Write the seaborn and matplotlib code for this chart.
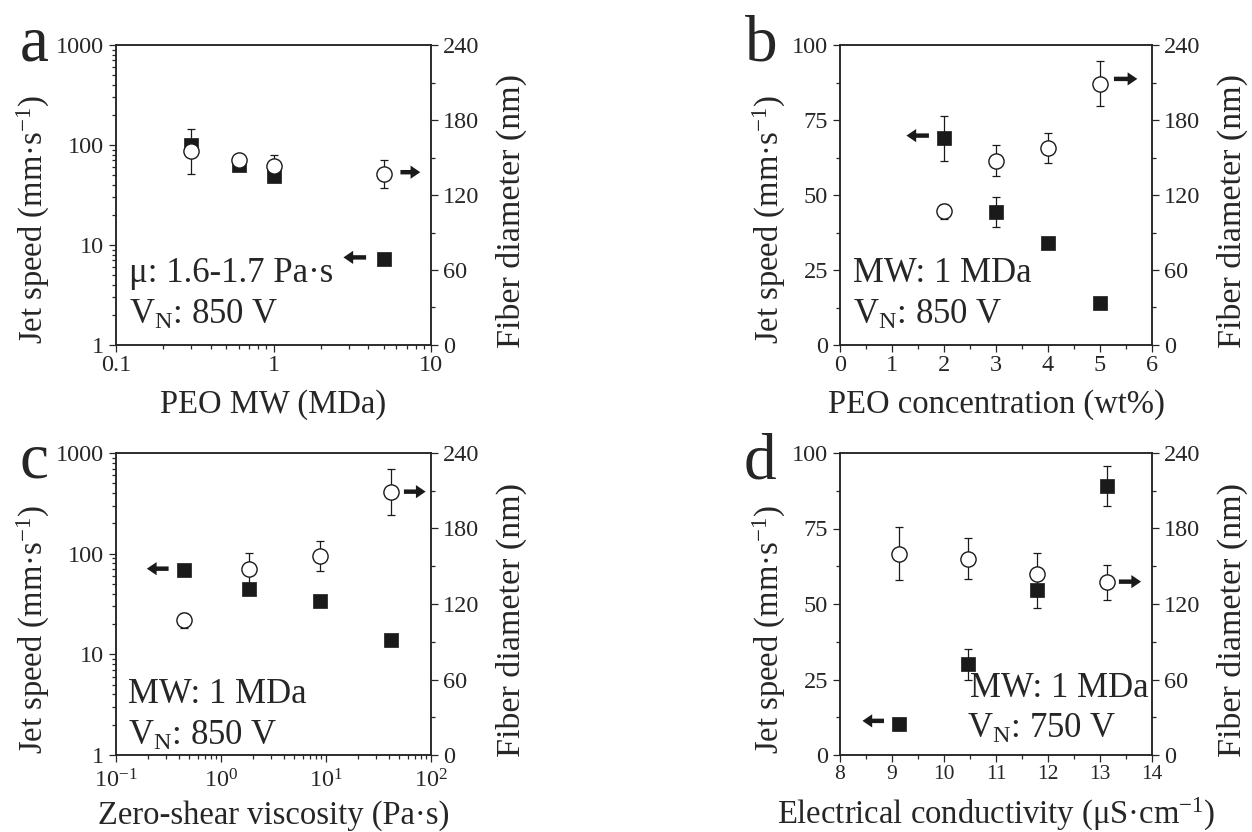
import numpy as np
import matplotlib
matplotlib.use("Agg")
import matplotlib.pyplot as plt
import seaborn as sns
from matplotlib.ticker import (FixedLocator, FixedFormatter, MultipleLocator,
                               LogLocator, NullFormatter, LogFormatterSciNotation)

# ---- data -------------------------------------------------------------
# (a) jet speed / fiber diameter vs PEO molecular weight
a_mw = [0.3, 0.6, 1.0, 5.0]
a_speed = [100, 63, 49, 7.3]
a_speed_err = [0, 0, 0, 0]
a_diam = [155, 148, 143, 137]
a_diam_err = [18, 3, 9, 11]

# (b) vs PEO concentration
b_conc = [2, 3, 4, 5]
b_speed = [69, 44.5, 34, 14]
b_speed_err = [7.5, 5, 0, 0]
b_diam = [107, 147.5, 158, 209]
b_diam_err = [6, 12.5, 12, 18]

# (c) vs zero-shear viscosity
c_visc = [0.44, 1.84, 8.7, 41.7]
c_speed = [69, 44.7, 34, 13.8]
c_speed_err = [0, 0, 0, 0]
c_diam = [107, 148, 158.4, 209]
c_diam_err = [6, 12.5, 12, 18]

# (d) vs electrical conductivity
d_cond = [9.14, 10.46, 11.79, 13.14]
d_speed = [10.2, 30, 54.7, 89.1]
d_speed_err = [2, 5, 6, 6.7]
d_diam = [160, 156, 143.5, 137.3]
d_diam_err = [21, 16.5, 17, 14]

# ---- style ------------------------------------------------------------
sns.set_theme(style="ticks")
plt.rcParams["font.family"] = ["Liberation Serif", "DejaVu Serif"]
plt.rcParams["mathtext.fontset"] = "custom"
plt.rcParams["mathtext.rm"] = "Liberation Serif"
plt.rcParams["mathtext.it"] = "Liberation Serif:italic"
plt.rcParams["mathtext.bf"] = "Liberation Serif:bold"
plt.rcParams["axes.linewidth"] = 1.1

TICK_FS = 17.5
LABEL_FS = 23.5
NOTE_FS = 25
LETTER_FS = 47

W, H = 1252, 832
fig = plt.figure(figsize=(W / 100, H / 100), dpi=100)
fig.patch.set_facecolor("white")


def rect(left, top, right, bottom):
    return [left / W, 1 - bottom / H, (right - left) / W, (bottom - top) / H]


def arrow(ax, x0, x1, y):
    ax.annotate("", xy=(x1, y), xytext=(x0, y), xycoords="axes fraction",
                textcoords="axes fraction",
                arrowprops=dict(arrowstyle="simple,head_length=0.7,head_width=0.95,tail_width=0.32",
                                fc="k", ec="k", lw=0, mutation_scale=10,
                                shrinkA=0, shrinkB=0))


def panel(box, x, speed, speed_err, diam, diam_err):
    ax = fig.add_axes(box)
    ax2 = ax.twinx()
    ax.errorbar(x, speed, yerr=speed_err, fmt="none", ecolor="k",
                elinewidth=0.9, capsize=3.2, capthick=0.9, zorder=2)
    sns.scatterplot(x=x, y=speed, ax=ax, marker="s", s=95, color="k",
                    edgecolor="k", linewidth=0.5, zorder=3)
    ax2.errorbar(x, diam, yerr=diam_err, fmt="none", ecolor="k",
                 elinewidth=0.9, capsize=3.2, capthick=0.9, zorder=2)
    sns.scatterplot(x=x, y=diam, ax=ax2, marker="o", s=120, color="white",
                    edgecolor="k", linewidth=1.0, zorder=3)
    ax.set_xlabel("")
    ax.set_ylabel("Jet speed (mm·s$^{-1}$)", fontsize=LABEL_FS, labelpad=3)
    ax.yaxis.label.set_y(0.417)
    ax2.set_ylabel("Fiber diameter (nm)", fontsize=LABEL_FS + 1, labelpad=12)
    ax2.yaxis.label.set_y(0.447)
    ax2.set_ylim(0, 240)
    ax2.yaxis.set_major_locator(MultipleLocator(60))
    ax2.yaxis.set_minor_locator(MultipleLocator(30))
    for a in (ax, ax2):
        a.tick_params(which="both", direction="out", labelsize=TICK_FS,
                      width=0.9, pad=3.5, top=False)
        a.tick_params(which="major", length=5)
        a.tick_params(which="minor", length=3)
    ax.tick_params(axis="x", pad=2)
    ax.tick_params(which="both", right=False)
    ax2.tick_params(which="both", left=False, right=True)
    for s in ax2.spines.values():
        s.set_linewidth(1.1)
    return ax, ax2


def log_y(ax):
    ax.set_yscale("log")
    ax.set_ylim(1, 1000)
    ax.yaxis.set_major_locator(FixedLocator([1, 10, 100, 1000]))
    ax.yaxis.set_major_formatter(FixedFormatter(["1", "10", "100", "1000"]))
    ax.yaxis.set_minor_locator(LogLocator(base=10, subs=np.arange(2, 10)))
    ax.yaxis.set_minor_formatter(NullFormatter())


def lin_y(ax):
    ax.set_ylim(0, 100)
    ax.yaxis.set_major_locator(MultipleLocator(25))
    ax.yaxis.set_minor_locator(MultipleLocator(12.5))


# ---- panel a ----------------------------------------------------------
ax, ax2 = panel(rect(116, 45, 431, 345), a_mw, a_speed, a_speed_err, a_diam, a_diam_err)
ax.set_xscale("log")
ax.set_xlim(0.1, 10)
ax.xaxis.set_major_locator(FixedLocator([0.1, 1, 10]))
ax.xaxis.set_major_formatter(FixedFormatter(["0.1", "1", "10"]))
ax.xaxis.set_minor_locator(LogLocator(base=10, subs=np.arange(2, 10)))
ax.xaxis.set_minor_formatter(NullFormatter())
log_y(ax)
ax.set_xlabel("PEO MW (MDa)", fontsize=LABEL_FS, labelpad=10)
ax.text(0.042, 0.209, "μ: 1.6-1.7 Pa·s", transform=ax.transAxes, fontsize=NOTE_FS, va="baseline")
ax.text(0.042, 0.07, "V$_\\mathrm{N}$: 850 V", transform=ax.transAxes, fontsize=NOTE_FS, va="baseline")
arrow(ax, 0.903, 0.966, 0.576)
arrow(ax, 0.794, 0.722, 0.292)
ax.text(-0.305, 0.95, "a", transform=ax.transAxes, fontsize=LETTER_FS, va="baseline")

# ---- panel b ----------------------------------------------------------
ax, ax2 = panel(rect(840, 45, 1152, 345), b_conc, b_speed, b_speed_err, b_diam, b_diam_err)
ax.set_xlim(0, 6)
ax.xaxis.set_major_locator(MultipleLocator(1))
ax.xaxis.set_minor_locator(MultipleLocator(0.5))
lin_y(ax)
ax.set_xlabel("PEO concentration (wt%)", fontsize=LABEL_FS, labelpad=10)
ax.text(0.041, 0.209, "MW: 1 MDa", transform=ax.transAxes, fontsize=NOTE_FS, va="baseline")
ax.text(0.041, 0.072, "V$_\\mathrm{N}$: 850 V", transform=ax.transAxes, fontsize=NOTE_FS, va="baseline")
arrow(ax, 0.285, 0.213, 0.698)
arrow(ax, 0.878, 0.953, 0.887)
ax.text(-0.305, 0.95, "b", transform=ax.transAxes, fontsize=LETTER_FS, va="baseline")

# ---- panel c ----------------------------------------------------------
ax, ax2 = panel(rect(116, 453, 431, 755), c_visc, c_speed, c_speed_err, c_diam, c_diam_err)
ax.set_xscale("log")
ax.set_xlim(0.1, 100)
ax.xaxis.set_major_locator(FixedLocator([0.1, 1, 10, 100]))
ax.xaxis.set_major_formatter(LogFormatterSciNotation())
ax.xaxis.set_minor_locator(LogLocator(base=10, subs=np.arange(2, 10)))
ax.xaxis.set_minor_formatter(NullFormatter())
ax.tick_params(axis="x", pad=5)
log_y(ax)
ax.set_xlabel("Zero-shear viscosity (Pa·s)", fontsize=LABEL_FS, labelpad=6)
ax.text(0.037, 0.172, "MW: 1 MDa", transform=ax.transAxes, fontsize=NOTE_FS, va="baseline")
ax.text(0.037, 0.033, "V$_\\mathrm{N}$: 850 V", transform=ax.transAxes, fontsize=NOTE_FS, va="baseline")
arrow(ax, 0.167, 0.098, 0.617)
arrow(ax, 0.914, 0.983, 0.872)
ax.text(-0.305, 0.92, "c", transform=ax.transAxes, fontsize=LETTER_FS, va="baseline")

# ---- panel d ----------------------------------------------------------
ax, ax2 = panel(rect(840, 453, 1152, 755), d_cond, d_speed, d_speed_err, d_diam, d_diam_err)
ax.set_xlim(8, 14)
ax.xaxis.set_major_locator(MultipleLocator(1))
ax.xaxis.set_minor_locator(MultipleLocator(0.5))
ax.tick_params(axis="x", labelsize=15.5)
lin_y(ax)
ax.set_xlabel("Electrical conductivity (μS·cm$^{-1}$)", fontsize=LABEL_FS, labelpad=9)
ax.text(0.416, 0.191, "MW: 1 MDa", transform=ax.transAxes, fontsize=NOTE_FS, va="baseline")
ax.text(0.407, 0.056, "V$_\\mathrm{N}$: 750 V", transform=ax.transAxes, fontsize=NOTE_FS, va="baseline")
arrow(ax, 0.141, 0.072, 0.113)
arrow(ax, 0.894, 0.965, 0.574)
ax.text(-0.31, 0.917, "d", transform=ax.transAxes, fontsize=LETTER_FS, va="baseline")

fig.savefig("out.png", dpi=100, facecolor="white")
